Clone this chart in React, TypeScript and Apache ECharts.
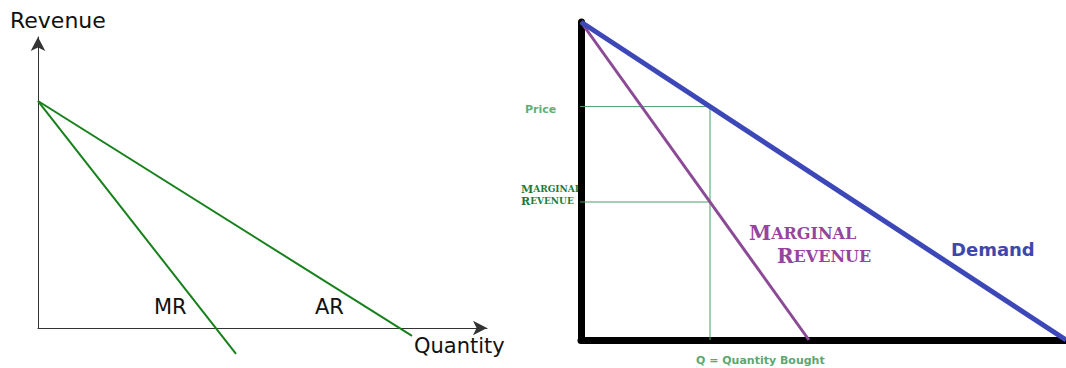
import React, { useEffect, useRef } from "react";
import * as echarts from "echarts";

// Left panel: AR / MR (x: quantity 0..100, y: revenue 0..100)
const arLine: [number, number][] = [[0, 78], [83.3, -2.7]];
const mrLine: [number, number][] = [[0, 78], [44.1, -8.9]];

// Right panel: demand / marginal revenue
const demandLine: [number, number][] = [[0, 100], [100, 0]];
const marginalLine: [number, number][] = [[0, 100], [47, 0]];
const quantityBought = 26.6;
const priceLevel = 73.4;
const mrLevel = 43.4;
const guideStartX = -5.5;

const labelsLeft = { y: "Revenue", x: "Quantity", ar: "AR", mr: "MR" };
const labelsRight = { price: "Price", demand: "Demand", q: "Q = Quantity Bought" };

const GREEN = "#16801b";
const GUIDE = "#4a9e64";
const PURPLE = "#8c4a96";
const BLUE = "#3d48b8";

export default function App() {
  const ref = useRef<HTMLDivElement>(null);
  useEffect(() => {
    document.body.style.margin = "0";
    if (!ref.current) return;
    const chart = echarts.init(ref.current, null, { renderer: "svg" });
    const hidden = {
      axisTick: { show: false },
      axisLabel: { show: false },
      splitLine: { show: false },
    };
    const leftAxisLine = {
      show: true,
      onZero: false,
      symbol: ["none", "arrow"],
      symbolSize: [11, 14],
      lineStyle: { color: "#333", width: 1 },
    };
    const rightAxisLine = {
      show: true,
      onZero: false,
      lineStyle: { color: "#000", width: 7, cap: "round" },
    };
    const smallCaps = (big: number, small: number, color: string) => ({
      c: { fontSize: big, fontFamily: "DejaVu Serif", fontWeight: "bold", fill: color, color },
      s: { fontSize: small, fontFamily: "DejaVu Serif", fontWeight: "bold", fill: color, color },
    });
    chart.setOption({
      animation: false,
      grid: [
        { left: 38, top: 37, width: 449, height: 291 },
        { left: 581, top: 22, width: 485, height: 318 },
      ],
      xAxis: [
        { type: "value", gridIndex: 0, min: 0, max: 100, axisLine: leftAxisLine, ...hidden },
        { type: "value", gridIndex: 1, min: 0, max: 100, axisLine: rightAxisLine, ...hidden },
      ],
      yAxis: [
        { type: "value", gridIndex: 0, min: 0, max: 100, axisLine: leftAxisLine, ...hidden },
        { type: "value", gridIndex: 1, min: 0, max: 100, axisLine: rightAxisLine, ...hidden },
      ],
      series: [
        {
          name: "AR", type: "line", xAxisIndex: 0, yAxisIndex: 0, data: arLine,
          symbol: "none", clip: false, lineStyle: { color: GREEN, width: 2 },
        },
        {
          name: "MR", type: "line", xAxisIndex: 0, yAxisIndex: 0, data: mrLine,
          symbol: "none", clip: false, lineStyle: { color: GREEN, width: 2 },
        },
        {
          name: "Price guide", type: "line", xAxisIndex: 1, yAxisIndex: 1,
          data: [[guideStartX, priceLevel], [quantityBought, priceLevel], [quantityBought, 0]],
          symbol: "none", clip: false, z: 1, lineStyle: { color: GUIDE, width: 1 },
        },
        {
          name: "MR guide", type: "line", xAxisIndex: 1, yAxisIndex: 1,
          data: [[guideStartX - 0.6, mrLevel], [quantityBought, mrLevel]],
          symbol: "none", clip: false, z: 1, lineStyle: { color: GUIDE, width: 1 },
        },
        {
          name: "Marginal Revenue", type: "line", xAxisIndex: 1, yAxisIndex: 1, data: marginalLine,
          symbol: "none", clip: false, lineStyle: { color: PURPLE, width: 3 },
        },
        {
          name: "Demand", type: "line", xAxisIndex: 1, yAxisIndex: 1, data: demandLine,
          symbol: "none", clip: false, z: 3, lineStyle: { color: BLUE, width: 5 },
        },
      ],
      graphic: [
        { type: "text", x: 10, y: 20, style: { text: labelsLeft.y, font: '22px "DejaVu Sans"', fill: "#111", verticalAlign: "middle" } },
        { type: "text", x: 414, y: 346, style: { text: labelsLeft.x, font: '21px "DejaVu Sans"', fill: "#111", verticalAlign: "middle" } },
        { type: "text", x: 154, y: 307, style: { text: labelsLeft.mr, font: '21px "DejaVu Sans"', fill: "#111", verticalAlign: "middle" } },
        { type: "text", x: 315, y: 307, style: { text: labelsLeft.ar, font: '21px "DejaVu Sans"', fill: "#111", verticalAlign: "middle" } },
        { type: "text", x: 525, y: 109, style: { text: labelsRight.price, font: 'bold 11px "DejaVu Sans"', fill: "#5cb078", verticalAlign: "middle" } },
        {
          type: "text", x: 521, y: 189,
          style: { text: "{c|M}{s|ARGINAL}", rich: smallCaps(11, 9, "#1e7a3a"), verticalAlign: "middle" },
        },
        {
          type: "text", x: 521, y: 201,
          style: { text: "{c|R}{s|EVENUE}", rich: smallCaps(11, 9, "#1e7a3a"), verticalAlign: "middle" },
        },
        {
          type: "text", x: 749, y: 233,
          style: { text: "{c|M}{s|ARGINAL}", rich: smallCaps(20, 16, "#96449c"), verticalAlign: "middle" },
        },
        {
          type: "text", x: 777, y: 256,
          style: { text: "{c|R}{s|EVENUE}", rich: smallCaps(20, 16, "#96449c"), verticalAlign: "middle" },
        },
        { type: "text", x: 951, y: 249, style: { text: labelsRight.demand, font: 'bold 18px "DejaVu Sans"', fill: "#3c48b0", verticalAlign: "middle" } },
        { type: "text", x: 696, y: 360, style: { text: labelsRight.q, font: 'bold 11px "DejaVu Sans"', fill: "#5aa870", verticalAlign: "middle" } },
      ],
    });
    return () => chart.dispose();
  }, []);
  return <div ref={ref} style={{ width: 1066, height: 368 }} />;
}
